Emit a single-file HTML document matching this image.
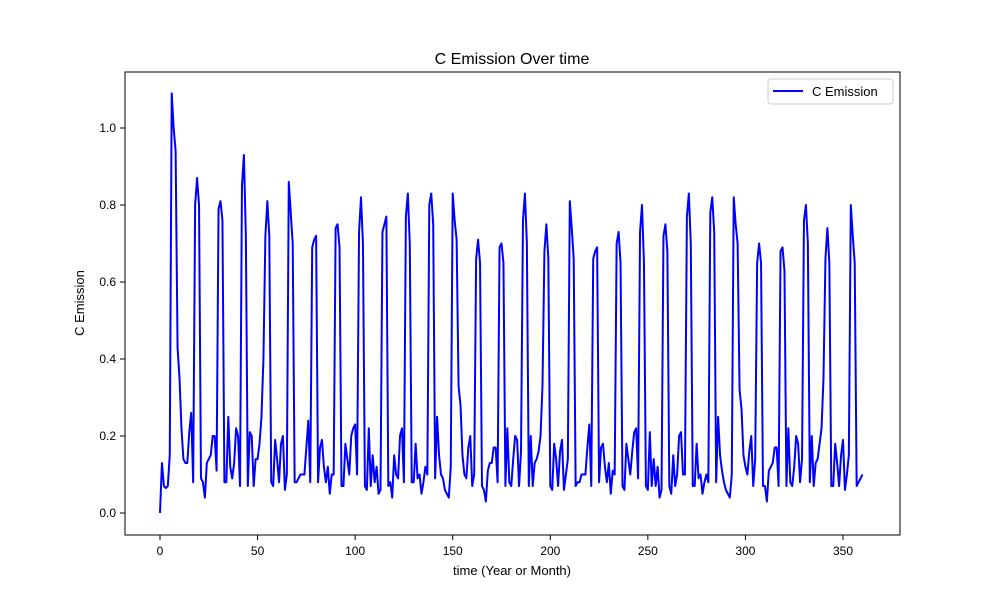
<!DOCTYPE html>
<html><head><meta charset="utf-8"><style>
body{margin:0;background:#fff;font-family:"Liberation Sans",sans-serif}
svg text{font-family:"Liberation Sans",sans-serif;fill:#000}
</style></head><body>
<svg id="chart" width="1000" height="600" xmlns="http://www.w3.org/2000/svg">
<rect x="0" y="0" width="1000" height="600" fill="#fff"/>
<text x="512" y="64" font-size="16" text-anchor="middle">C Emission Over time</text>
<g id="ticks"></g>
<polyline id="line" fill="none" stroke="#0000ff" stroke-width="2" stroke-linejoin="round"/>
<rect x="125" y="72" width="775" height="463" fill="none" stroke="#000" stroke-width="1"/>
<text x="512" y="575" font-size="13" text-anchor="middle">time (Year or Month)</text>
<text x="0" y="0" font-size="13" text-anchor="middle" transform="translate(84,303) rotate(-90)">C Emission</text>
<g>
<rect x="768" y="79" width="125" height="25" rx="3" fill="#fff" stroke="#ccc"/>
<line x1="773" y1="91" x2="803" y2="91" stroke="#0000ff" stroke-width="2"/>
<text x="812" y="96" font-size="13">C Emission</text>
</g>
</svg>
<script>
const emission=[
0,.13,.07,.065,.07,.15,1.09,1.0,.94,.43,.35,.22,
.14,.13,.13,.21,.26,.08,.8,.87,.8,.09,.08,.04,
.13,.14,.15,.2,.2,.11,.79,.81,.76,.08,.08,.25,
.12,.09,.13,.22,.2,.07,.85,.93,.72,.07,.21,.2,
.07,.14,.14,.18,.25,.4,.72,.81,.72,.08,.07,.19,
.14,.08,.18,.2,.06,.1,.86,.78,.7,.08,.08,.09,
.1,.1,.1,.17,.24,.08,.69,.71,.72,.08,.17,.19,
.12,.08,.12,.05,.1,.1,.74,.75,.69,.07,.07,.18,
.14,.1,.2,.22,.23,.1,.73,.82,.7,.07,.06,.22,
.07,.15,.08,.12,.05,.06,.73,.75,.77,.07,.08,.04,
.15,.1,.09,.2,.22,.08,.77,.83,.7,.08,.08,.18,
.09,.1,.05,.08,.12,.1,.8,.83,.75,.09,.25,.15,
.1,.09,.06,.05,.04,.12,.83,.76,.71,.33,.28,.15,
.1,.09,.17,.2,.07,.1,.66,.71,.65,.07,.06,.03,
.11,.13,.13,.17,.17,.08,.69,.7,.65,.07,.22,.08,
.07,.14,.2,.19,.07,.16,.76,.83,.7,.07,.2,.07,
.13,.14,.16,.2,.33,.68,.75,.66,.07,.06,.18,.14,
.07,.16,.19,.06,.1,.14,.81,.74,.66,.07,.08,.08,
.1,.1,.1,.17,.23,.07,.66,.68,.69,.08,.17,.18,
.12,.08,.13,.05,.11,.1,.7,.73,.65,.07,.06,.18,
.14,.1,.16,.21,.22,.09,.73,.8,.65,.07,.06,.21,
.07,.14,.07,.12,.04,.06,.72,.75,.68,.07,.05,.15,
.07,.1,.2,.21,.1,.1,.77,.83,.7,.07,.07,.18,
.09,.1,.05,.08,.1,.08,.78,.82,.73,.08,.25,.15,
.11,.08,.06,.05,.04,.1,.82,.75,.7,.32,.27,.15,
.12,.1,.16,.2,.07,.14,.65,.7,.65,.07,.07,.03,
.11,.12,.13,.17,.17,.07,.68,.69,.63,.07,.22,.08,
.07,.12,.2,.18,.08,.14,.76,.8,.7,.08,.2,.07,
.13,.14,.18,.22,.35,.66,.74,.65,.07,.07,.18,.13,
.07,.15,.19,.06,.1,.15,.8,.72,.65,.07,.08,.09,
.1];
const xTicks=[0,50,100,150,200,250,300,350];
const yTicks=[0.0,0.2,0.4,0.6,0.8,1.0];
function xs(t){return 160+t*(683/350);}
function ys(v){return 513-v*385;}
const NS="http://www.w3.org/2000/svg";
const line=document.getElementById('line');
line.setAttribute('points',emission.map((v,i)=>xs(i).toFixed(2)+','+ys(v).toFixed(2)).join(' '));
const g=document.getElementById('ticks');
xTicks.forEach(t=>{
  const l=document.createElementNS(NS,'line');
  l.setAttribute('x1',xs(t));l.setAttribute('x2',xs(t));l.setAttribute('y1',535);l.setAttribute('y2',540);l.setAttribute('stroke','#000');
  
  
  g.appendChild(l);
  const tx=document.createElementNS(NS,'text');
  tx.setAttribute('x',xs(t));tx.setAttribute('y',555);tx.setAttribute('font-size','12');tx.setAttribute('text-anchor','middle');
  tx.textContent=t;
  
  
  g.appendChild(tx);
});
yTicks.forEach(v=>{
  const l=document.createElementNS(NS,'line');
  l.setAttribute('x1',120);l.setAttribute('x2',125);l.setAttribute('y1',ys(v));l.setAttribute('y2',ys(v));l.setAttribute('stroke','#000');
  
  
  g.appendChild(l);
  const tx=document.createElementNS(NS,'text');
  tx.setAttribute('x',116);tx.setAttribute('y',ys(v)+4);tx.setAttribute('font-size','12');tx.setAttribute('text-anchor','end');
  tx.textContent=v.toFixed(1);
  
  
  g.appendChild(tx);
});
</script>
</body></html>
